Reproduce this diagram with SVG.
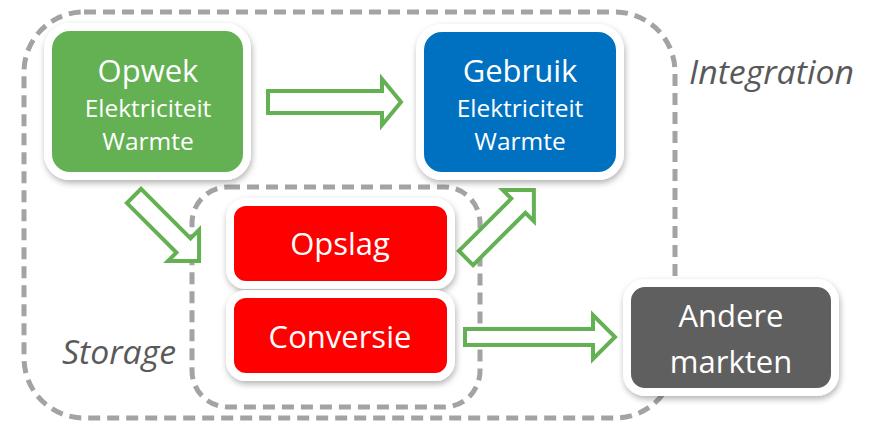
<svg xmlns="http://www.w3.org/2000/svg" width="874" height="424" viewBox="0 0 874 424">
  <defs>
    <filter id="shadow" x="-10%" y="-10%" width="125%" height="130%">
      <feDropShadow dx="1" dy="3" stdDeviation="3" flood-color="#000" flood-opacity="0.3"/>
    </filter>
  </defs>
  <style>
    .zone { fill: none; stroke: #A3A3A3; stroke-width: 5; stroke-dasharray: 12 7; }
    .box { stroke: #FFFFFF; stroke-width: 8; filter: url(#shadow); }
    .arrow { fill: #FFFFFF; stroke: #63B153; stroke-width: 4; stroke-linejoin: miter; }
    .label { fill: #FFFFFF; font-family: "Open Sans", "Liberation Sans", sans-serif; text-anchor: middle; }
    .big { font-size: 31px; }
    .small { font-size: 24.5px; }
    .zone-label { fill: #595959; font-family: "Open Sans", "Liberation Sans", sans-serif; font-style: italic; font-size: 32px; }
  </style>

  <!-- dashed zones -->
  <g id="integration-zone">
    <rect class="zone" x="24" y="12" width="651" height="406" rx="60"/>
    <text class="zone-label" x="689" y="84" textLength="165" lengthAdjust="spacingAndGlyphs">Integration</text>
  </g>
  <g id="storage-zone">
    <rect class="zone" x="192" y="187" width="288" height="220" rx="36"/>
    <text class="zone-label" x="62" y="364" textLength="114" lengthAdjust="spacingAndGlyphs">Storage</text>
  </g>

  <!-- connectors: hollow block arrows -->
  <g id="connectors">
    <path class="arrow" d="M268,91 L382,91 L382,79 L401,102 L382,125 L382,113 L268,113 Z"/>
    <path class="arrow" transform="translate(134,196) rotate(45)" d="M0,-10 L70,-10 L70,-22 L92,0 L70,22 L70,10 L0,10 Z"/>
    <path class="arrow" transform="translate(466,258) rotate(-45)" d="M0,-10 L74,-10 L74,-22 L96,0 L74,22 L74,10 L0,10 Z"/>
    <path class="arrow" d="M465,329 L593,329 L593,315 L615,337 L593,359 L593,345 L465,345 Z"/>
  </g>

  <!-- nodes -->
  <g id="opwek">
    <rect class="box" x="48" y="27" width="199" height="149" rx="22" fill="#63B153"/>
    <text class="label big" x="148" y="82">Opwek</text>
    <text class="label small" x="148" y="117">Elektriciteit</text>
    <text class="label small" x="148" y="150">Warmte</text>
  </g>
  <g id="gebruik">
    <rect class="box" x="420" y="28" width="200" height="148" rx="22" fill="#0070C0"/>
    <text class="label big" x="520" y="82">Gebruik</text>
    <text class="label small" x="520" y="117">Elektriciteit</text>
    <text class="label small" x="520" y="150">Warmte</text>
  </g>
  <g id="opslag">
    <rect class="box" x="230" y="202" width="221" height="83" rx="16" fill="#FF0000"/>
    <text class="label big" x="340" y="255">Opslag</text>
  </g>
  <g id="conversie">
    <rect class="box" x="230" y="294" width="221" height="83" rx="16" fill="#FF0000"/>
    <text class="label big" x="340" y="348">Conversie</text>
  </g>
  <g id="andere-markten">
    <rect class="box" x="627" y="283" width="208" height="109" rx="18" fill="#5F5F61"/>
    <text class="label big" x="731" y="327">Andere</text>
    <text class="label big" x="731" y="373">markten</text>
  </g>
</svg>
